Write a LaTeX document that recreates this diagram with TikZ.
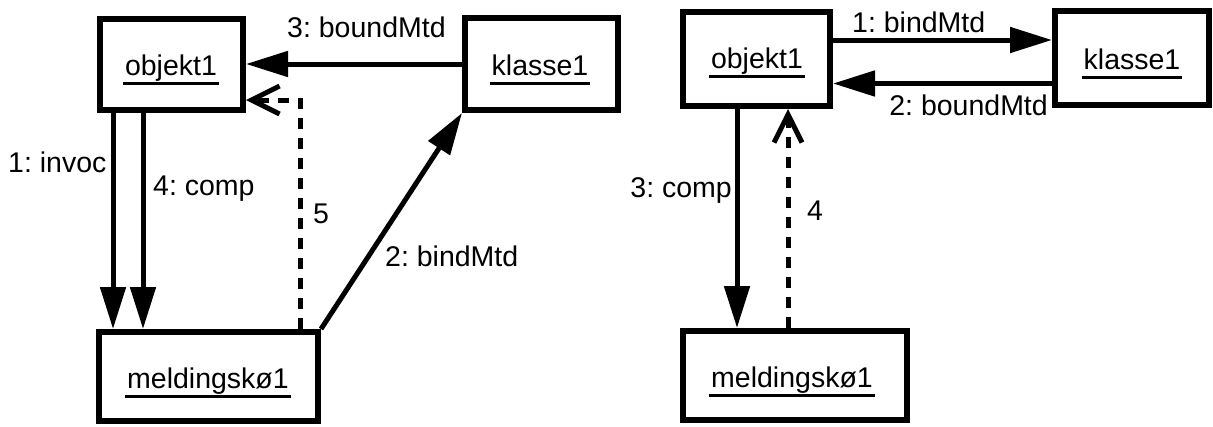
\documentclass[tikz,border=0pt]{standalone}
\usepackage{fontspec}
\setmainfont{Liberation Sans}
\usetikzlibrary{arrows.meta}
\frenchspacing
% object name with a thin underline a little wider than the text
\newcommand\objname[1]{\setbox0\hbox{#1}\rlap{\hspace{-2pt}\rule[-9.5pt]{\dimexpr\wd0+4pt\relax}{2.6pt}}\box0}
\begin{document}
\begin{tikzpicture}[x=1pt,y=-1pt,
  obj/.style={draw, line width=6pt, inner sep=0pt, rectangle},
  objtext/.style={inner sep=0pt, anchor=base, font=\fontsize{28.5}{30}\selectfont},
  lbl/.style={inner sep=0pt, font=\fontsize{28.5}{30}\selectfont},
  msg/.style={line width=5pt, -{Triangle[length=42pt,width=25pt]}},
  reply/.style={line width=5pt, dash pattern=on 11pt off 9pt, -{Straight Barb[length=28pt,width=28pt]}}]
\useasboundingbox (0,0) rectangle (1213,426);

% ---- left collaboration ----
\node[obj, minimum width=143pt, minimum height=91pt] (objL) at (171.5,64.5) {};
\node[objtext] (objLt) at (171,75) {\objname{objekt1}};
\node[obj, minimum width=153pt, minimum height=92pt] (klL) at (541.5,64) {};
\node[objtext] (klLt) at (540,75) {\objname{klasse1}};
\node[obj, minimum width=219pt, minimum height=89pt] (mlL) at (208.5,376.5) {};
\node[objtext] (mlLt) at (208,388) {\objname{meldingskø1}};

\draw[msg] (klL.west) -- (objL.east |- klL.west);
\coordinate (inv) at ([xshift=16pt]objL.south west);
\coordinate (cmp) at ([xshift=46pt]objL.south west);
\draw[msg] (inv) -- (inv |- mlL.north);
\draw[msg] (cmp) -- (cmp |- mlL.north);
\draw[msg] (mlL.north east) -- (klL.south west);
\coordinate (k5) at (300,100);
\draw[reply] (mlL.north -| k5) -- (k5) -- (objL.east |- k5);

\node[lbl, anchor=base west] (l3) at (287,37) {3: boundMtd};
\node[lbl, anchor=base west] (l1) at (8,172) {1: invoc};
\node[lbl, anchor=base west] (l4) at (153,195) {4: comp};
\node[lbl, anchor=base west] (l5) at (313,223) {5};
\node[lbl, anchor=base west] (l2) at (385,266) {2: bindMtd};

% ---- right collaboration ----
\node[obj, minimum width=147pt, minimum height=94pt] (objR) at (756.5,59) {};
\node[objtext] (objRt) at (757,68) {\objname{objekt1}};
\node[obj, minimum width=154pt, minimum height=94pt] (klR) at (1132,58) {};
\node[objtext] (klRt) at (1132,69) {\objname{klasse1}};
\node[obj, minimum width=224pt, minimum height=89pt] (mlR) at (795,375.5) {};
\node[objtext] (mlRt) at (792,387) {\objname{meldingskø1}};

\coordinate (m1) at (0,40);
\coordinate (m2) at (0,83.5);
\coordinate (m3) at (737,0);
\coordinate (m4) at (788,0);
\draw[msg] (objR.east |- m1) -- (klR.west |- m1);
\draw[msg] (klR.west |- m2) -- (objR.east |- m2);
\draw[msg] (objR.south -| m3) -- (mlR.north -| m3);
\draw[reply] (mlR.north -| m4) -- (objR.south -| m4);

\node[lbl, anchor=base west] (r1) at (852,32) {1: bindMtd};
\node[lbl, anchor=base east] (r2) at (1048,115) {2: boundMtd};
\node[lbl, anchor=base east] (r3) at (732,197) {3: comp};
\node[lbl, anchor=base west] (r4) at (807,220) {4};
\end{tikzpicture}
\end{document}
